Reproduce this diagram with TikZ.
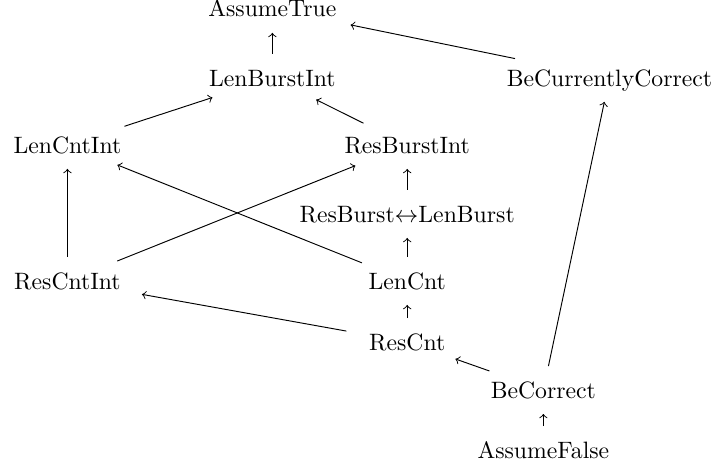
\documentclass[tikz,border=0pt]{standalone}
\usepackage{amsmath}
\usepackage{amssymb}
\usepackage{tikz}
\usetikzlibrary{shapes.geometric}

\begin{document}
\begin{tikzpicture}[every node/.style={ellipse, anchor=base, inner xsep=4.2pt, inner ysep=3.6pt, text height=6.83pt, text depth=0pt}]
            \useasboundingbox (0,0) rectangle (10.68,-6.97);
            % Top
            \node (assumetrue) at (4.04,-0.252) {AssumeTrue};
            \node (lenburstint) at (4.04,-1.276) {LenBurstInt};
            \node (becurrentlycorrect) at (9.04,-1.276) {BeCurrentlyCorrect};
            % Middle
            \node (lencntint) at (1.00,-2.270) {LenCntInt};
            \node (resburstint) at (6.04,-2.270) {ResBurstInt};
            \node (resburstlenburst) at (6.04,-3.294) {ResBurst$\leftrightarrow$LenBurst};
            \node (rescntint) at (1.00,-4.288) {ResCntInt};
            \node (lencnt) at (6.04,-4.288) {LenCnt};
            % Bottom
            \node (rescnt) at (6.04,-5.193) {ResCnt};
            \node (becorrect) at (8.06,-5.905) {BeCorrect};
            \node (assumefalse) at (8.06,-6.795) {AssumeFalse};
            % Edges
            \draw[->] (lenburstint) -- (assumetrue);
            \draw[->] (becurrentlycorrect) -- (assumetrue);
            \draw[->] (lencntint) -- (lenburstint);
            \draw[->] (resburstint) -- (lenburstint);
            \draw[->] (rescntint) -- (lencntint);
            \draw[->] (lencnt) -- (lencntint);
            \draw[->] (rescntint) -- (resburstint);
            \draw[->] (resburstlenburst) -- (resburstint);
            \draw[->] (lencnt) -- (resburstlenburst);
            \draw[->] (rescnt) -- (lencnt);
            \draw[->] (rescnt) -- (rescntint);
            \draw[->] (becorrect) -- (rescnt);
            \draw[->] (becorrect) -- (becurrentlycorrect);
            \draw[->] (assumefalse) -- (becorrect);
        \end{tikzpicture}
\end{document}
